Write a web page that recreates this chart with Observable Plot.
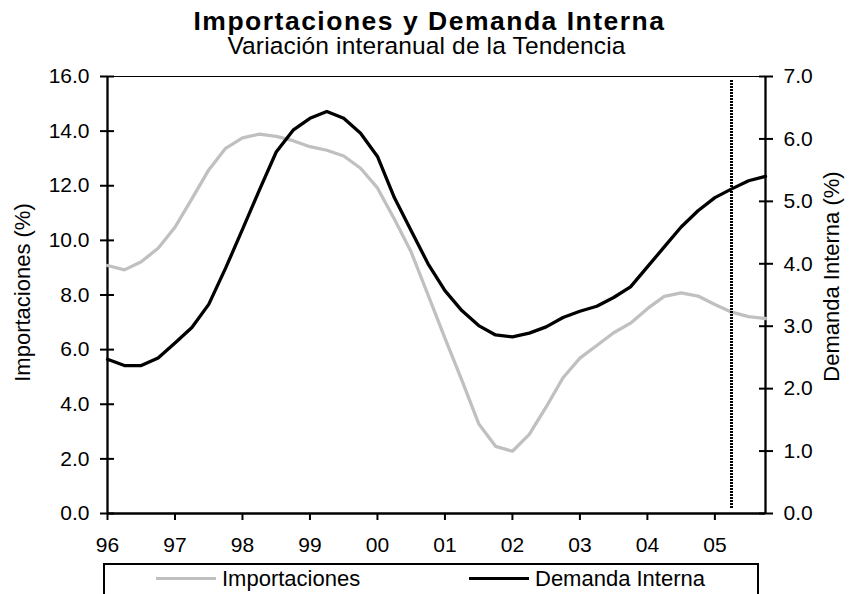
<!DOCTYPE html>
<html>
<head>
<meta charset="utf-8">
<script src="https://cdn.jsdelivr.net/npm/d3@7"></script>
<script src="https://cdn.jsdelivr.net/npm/@observablehq/plot@0.6"></script>
<style>
  body { margin: 0; background: #fff; overflow: hidden; font-family: "Liberation Sans", Arial, sans-serif; color: #000; }
  #wrap { position: relative; width: 853px; height: 594px; overflow: hidden; }
  #title { position: absolute; left: 3px; width: 853px; top: 11px; text-align: center; font-weight: bold; font-size: 26.5px; line-height: 21px; letter-spacing: 1.5px; white-space: nowrap; }
  #subtitle { position: absolute; left: 0; width: 853px; top: 36px; text-align: center; font-size: 24.5px; line-height: 20px; letter-spacing: 0.15px; white-space: nowrap; }
  #chart { position: absolute; left: 0; top: 62px; }
  #legend { position: absolute; left: 103px; top: 563px; width: 656px; height: 60px; border: 2px solid #000; box-sizing: border-box; }
  .sw { position: absolute; height: 3.3px; }
  .lt { position: absolute; font-size: 22px; line-height: 22px; white-space: nowrap; }
</style>
</head>
<body>
<div id="wrap">
  <div id="title">Importaciones y Demanda Interna</div>
  <div id="subtitle">Variación interanual de la Tendencia</div>
  <div id="chart"></div>
  <div id="legend"></div>
  <div class="sw" style="left:156px;top:576.5px;width:60px;background:#c0c0c0"></div>
  <div class="lt" style="left:222px;top:568px">Importaciones</div>
  <div class="sw" style="left:469px;top:576.5px;width:60px;background:#000"></div>
  <div class="lt" style="left:535px;top:568px">Demanda Interna</div>
</div>
<script>
// Categories: years (quarterly data, 4 per year)
const years = [1996, 1997, 1998, 1999, 2000, 2001, 2002, 2003, 2004, 2005];
const yearLabels = ["96", "97", "98", "99", "00", "01", "02", "03", "04", "05"];
const quartersPerYear = 4;

// Series (variación interanual de la tendencia, %)
const importaciones = [
  9.08, 8.92, 9.22, 9.71,
  10.48, 11.52, 12.58, 13.37,
  13.75, 13.89, 13.81, 13.65,
  13.43, 13.30, 13.09, 12.64,
  11.92, 10.78, 9.57, 8.00,
  6.42, 4.88, 3.29, 2.46,
  2.28, 2.90, 3.90, 4.97,
  5.69, 6.15, 6.62, 6.97,
  7.50, 7.95, 8.08, 7.96,
  7.65, 7.37, 7.21, 7.14
];
const demandaInterna = [
  2.47, 2.37, 2.37, 2.49,
  2.73, 2.98, 3.35, 3.93,
  4.55, 5.18, 5.79, 6.14,
  6.33, 6.44, 6.33, 6.09,
  5.72, 5.06, 4.53, 4.00,
  3.57, 3.25, 3.01, 2.86,
  2.83, 2.89, 2.99, 3.14,
  3.24, 3.32, 3.46, 3.63,
  3.95, 4.27, 4.59, 4.85,
  5.06, 5.20, 5.33, 5.40
];

// Axis ticks
const leftTicks = [0, 2, 4, 6, 8, 10, 12, 14, 16];
const rightTicks = [0, 1, 2, 3, 4, 5, 6, 7];
const leftMax = 16, rightMax = 7;
// vertical dotted marker (2005 Q2)
const markerAt = [2005.25];

const periods = [];
years.forEach(y => { for (let q = 0; q < quartersPerYear; q++) periods.push(y + q / quartersPerYear); });
const rows = periods.map((t, i) => ({ t, imp: importaciones[i], dem: demandaInterna[i] }));
const xMax = periods[periods.length - 1];
const toLeft = v => v * leftMax / rightMax;

const plot = Plot.plot({
  width: 853,
  height: 496,
  marginLeft: 107,
  marginRight: 88,
  marginTop: 14,
  marginBottom: 45,
  style: { fontFamily: '"Liberation Sans", Arial, sans-serif', fontSize: "21px", color: "#000", background: "#fff", overflow: "visible" },
  x: { domain: [years[0], xMax] },
  y: { domain: [0, leftMax] },
  marks: [
    // left axis ticks (crossing) and labels
    Plot.axisY({ anchor: "left", ticks: leftTicks, tickSize: 14, dx: 7, tickFormat: () => "", label: null, strokeWidth: 2 }),
    Plot.axisY({ anchor: "left", ticks: leftTicks, tickSize: 0, tickPadding: 18, tickFormat: d => d.toFixed(1), label: null, fontSize: 21 }),
    // right axis ticks and labels
    Plot.axisY({ anchor: "right", ticks: rightTicks.map(toLeft), tickSize: 14, dx: -7, tickFormat: () => "", label: null, strokeWidth: 2 }),
    Plot.axisY({ anchor: "right", ticks: rightTicks.map(toLeft), tickSize: 0, tickPadding: 18, tickFormat: d => (d * rightMax / leftMax).toFixed(1), label: null, fontSize: 21 }),
    // x axis
    Plot.axisX({ ticks: years, tickSize: 7, tickPadding: 17, tickFormat: d => yearLabels[years.indexOf(d)], label: null, strokeWidth: 2, fontSize: 21 }),
    // frame lines
    Plot.ruleY([leftMax], { stroke: "#000", strokeWidth: 1 }),
    Plot.ruleY([0], { stroke: "#000", strokeWidth: 2.3 }),
    Plot.ruleX([years[0]], { stroke: "#000", strokeWidth: 2.3 }),
    Plot.ruleX([xMax], { stroke: "#000", strokeWidth: 2.3 }),
    // series
    Plot.line(rows, { x: "t", y: "imp", stroke: "#c0c0c0", strokeWidth: 3.3, strokeLinejoin: "miter" }),
    Plot.line(rows, { x: "t", y: d => toLeft(d.dem), stroke: "#000", strokeWidth: 3.3, strokeLinejoin: "miter" }),
    // dotted marker
    Plot.ruleX(markerAt, { stroke: "#000", strokeWidth: 3, strokeDasharray: "2,1", shapeRendering: "crispEdges", insetTop: 3.5, insetBottom: 4 }),
    // axis titles
    Plot.text(["Importaciones (%)"], { frameAnchor: "left", textAnchor: "middle", dx: -84.5, dy: -2.5, rotate: -90, fontSize: 22, fill: "#000" }),
    Plot.text(["Demanda Interna (%)"], { frameAnchor: "right", textAnchor: "middle", dx: 66, dy: -18.5, rotate: -90, fontSize: 22, fill: "#000" })
  ]
});
document.getElementById("chart").appendChild(plot);
</script>
</body>
</html>
